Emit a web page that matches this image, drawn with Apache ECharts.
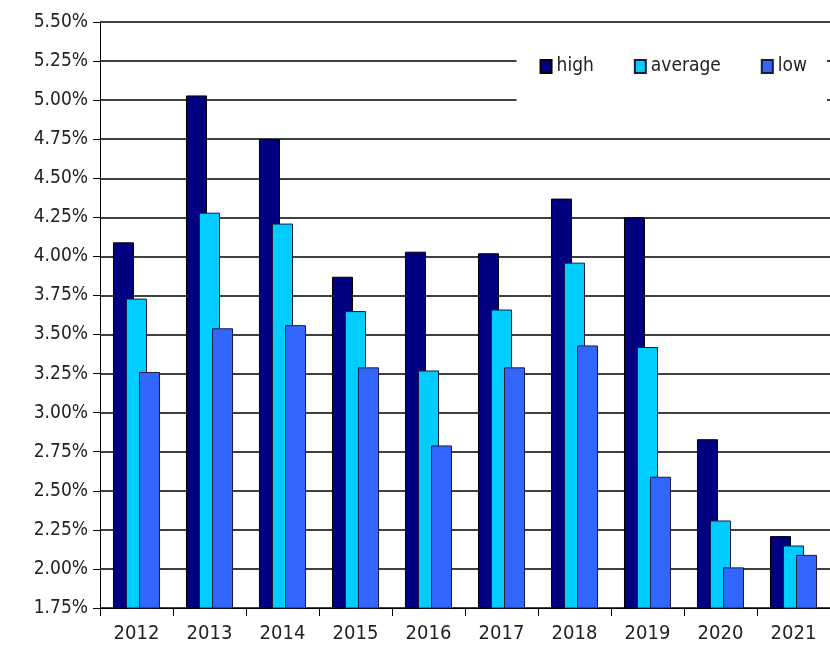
<!DOCTYPE html>
<html>
<head>
<meta charset="utf-8">
<script src="https://cdn.jsdelivr.net/npm/echarts@6/dist/echarts.min.js"></script>
<style>
  html, body { margin: 0; padding: 0; background: #fff; }
  #chart { width: 830px; height: 671px; }
</style>
</head>
<body>
<div id="chart"></div>
<script>
// years on the x axis
var years = ['2012', '2013', '2014', '2015', '2016', '2017', '2018', '2019', '2020', '2021'];
// rates in percent
var highData = [4.09, 5.03, 4.75, 3.87, 4.03, 4.02, 4.37, 4.25, 2.83, 2.21];
var averageData = [3.73, 4.28, 4.21, 3.65, 3.27, 3.66, 3.96, 3.42, 2.31, 2.15];
var lowData = [3.26, 3.54, 3.56, 3.29, 2.79, 3.29, 3.43, 2.59, 2.01, 2.09];

var font = '"Liberation Sans Narrow", "Arial Narrow", "DejaVu Sans Condensed", sans-serif';

var chart = echarts.init(document.getElementById('chart'));
var option = {
	backgroundColor: '#fff',
	animation: false,
	grid: {
		left: 100,
		right: 0,
		top: 22,
		bottom: 63,
		containLabel: false
	},
	legend: {
		right: 3,
		top: 47,
		padding: [10, 20, 30, 23],
		backgroundColor: '#fff',
		icon: 'rect',
		itemWidth: 11,
		itemHeight: 13,
		itemGap: 40,
		textStyle: { fontFamily: font, fontSize: 19, color: '#222' },
		data: ['high', 'average', 'low']
	},
	xAxis: {
		type: 'category',
		data: years,
		axisLine: { lineStyle: { color: '#000', width: 1 } },
		axisTick: { show: true, length: 8, lineStyle: { color: '#000' } },
		axisLabel: { fontFamily: font, fontSize: 20, color: '#222', margin: 16 }
	},
	yAxis: {
		type: 'value',
		min: 1.75,
		max: 5.5,
		interval: 0.25,
		axisLine: { show: true, lineStyle: { color: '#000', width: 1 } },
		axisTick: { show: true, length: 7, lineStyle: { color: '#000' } },
		axisLabel: {
			fontFamily: font, fontSize: 19, color: '#222', margin: 12,
			formatter: function (v) { return v.toFixed(2) + '%'; }
		},
		splitLine: { lineStyle: { color: '#000', width: 1.5 } }
	},
	series: [
		{
			name: 'high',
			type: 'bar',
			barWidth: 21,
			barGap: '-38%',
			itemStyle: { color: '#000080', borderColor: '#000', borderWidth: 1 },
			data: highData
		},
		{
			name: 'average',
			type: 'bar',
			barWidth: 21,
			barGap: '-38%',
			itemStyle: { color: '#00CCFF', borderColor: '#1a1a40', borderWidth: 1 },
			data: averageData
		},
		{
			name: 'low',
			type: 'bar',
			barWidth: 21,
			barGap: '-38%',
			itemStyle: { color: '#3366FF', borderColor: '#1a1a40', borderWidth: 1 },
			data: lowData
		}
	]
};
chart.setOption(option);
</script>
</body>
</html>
